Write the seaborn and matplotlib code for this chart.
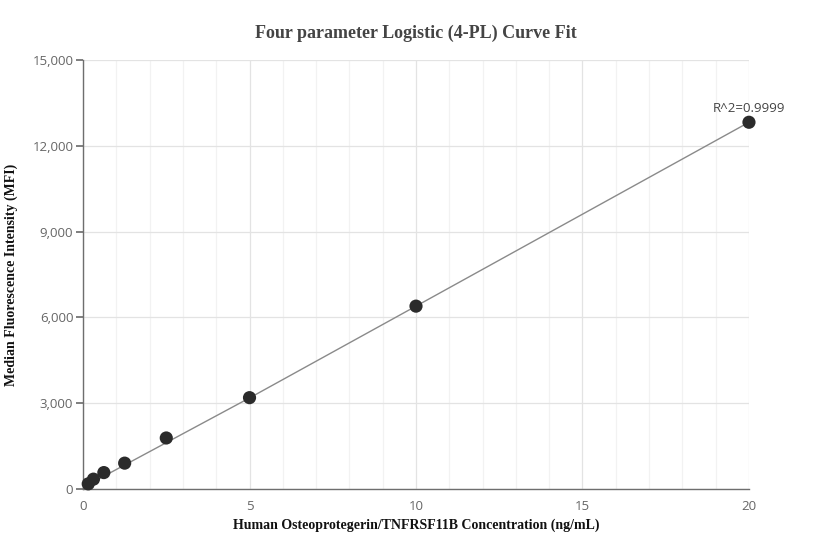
import matplotlib
matplotlib.use("Agg")
import matplotlib.pyplot as plt
import matplotlib.ticker as ticker
import numpy as np
import pandas as pd
import seaborn as sns

# standard concentrations (ng/mL) and measured MFI
conc = [0.156, 0.313, 0.625, 1.25, 2.5, 5, 10, 20]
mfi = [175, 340, 570, 900, 1780, 3190, 6390, 12820]

# fitted 4-PL curve
fit_conc = [0.156, 5, 10, 20]
fit_mfi = [150, 3180, 6390, 12820]

r2_label = "R^2=0.9999"

sns.set_theme(style="white")
plt.rcParams["font.family"] = ["Open Sans", "DejaVu Sans"]

fig = plt.figure(figsize=(8.32, 5.6), dpi=100)
ax = fig.add_axes([0.0998, 0.127, 0.8004, 0.766])

df = pd.DataFrame({"conc": conc, "mfi": mfi})
fit_df = pd.DataFrame({"conc": fit_conc, "mfi": fit_mfi})

sns.lineplot(data=fit_df, x="conc", y="mfi", ax=ax, color="#8a8a8a",
             linewidth=1.0, zorder=2)
sns.scatterplot(data=df, x="conc", y="mfi", ax=ax, color="#2b2b2b",
                s=90, edgecolor="none", zorder=3, clip_on=False)

ax.set_xlim(0, 20)
ax.set_ylim(0, 15000)
ax.xaxis.set_major_locator(ticker.MultipleLocator(5))
ax.xaxis.set_minor_locator(ticker.MultipleLocator(1))
ax.yaxis.set_major_locator(ticker.MultipleLocator(3000))
ax.yaxis.set_major_formatter(ticker.FuncFormatter(lambda v, p: f"{int(v):,}"))

ax.grid(which="major", color="#e3e3e3", linewidth=0.9)
ax.grid(which="minor", axis="x", color="#f2f2f2", linewidth=0.9)
ax.set_axisbelow(True)

for s in ["top", "right"]:
    ax.spines[s].set_visible(False)
for s in ["left", "bottom"]:
    ax.spines[s].set_color("#6e6e6e")
    ax.spines[s].set_linewidth(1.0)

ax.tick_params(axis="y", which="major", left=True, length=5, color="#6e6e6e",
               labelsize=9.5, labelcolor="#666666", pad=2)
ax.tick_params(axis="x", which="both", bottom=False, labelsize=9.5,
               labelcolor="#666666", pad=2)

ax.set_xlabel("Human Osteoprotegerin/TNFRSF11B Concentration (ng/mL)",
              family="Liberation Serif", fontweight="bold", fontsize=10,
              color="#111111", labelpad=4)
ax.set_ylabel("Median Fluorescence Intensity (MFI)",
              family="Liberation Serif", fontweight="bold", fontsize=10,
              color="#111111", labelpad=10)
ax.set_title("Four parameter Logistic (4-PL) Curve Fit",
             family="Liberation Serif", fontweight="bold", fontsize=13,
             color="#444444", pad=16)

ax.annotate(r2_label, xy=(conc[-1], mfi[-1]), xytext=(0, 5),
            textcoords="offset points", ha="center", va="bottom",
            fontsize=9.5, color="#444444")

fig.savefig("out.png", dpi=100)
